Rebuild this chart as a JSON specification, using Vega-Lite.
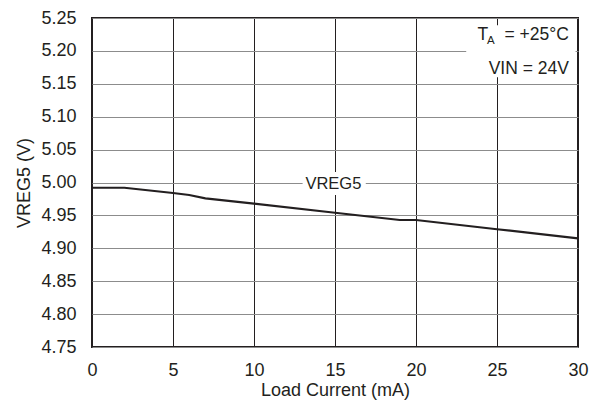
{
  "$schema": "https://vega.github.io/schema/vega-lite/v6.json",
  "autosize": "none",
  "width": 486,
  "height": 329,
  "padding": {"left": 92, "top": 18, "right": 11, "bottom": 59},
  "background": "white",
  "config": {
    "view": {"stroke": "#231f20", "strokeWidth": 2},
    "font": "Liberation Sans",
    "axis": {
      "labelFont": "Liberation Sans",
      "titleFont": "Liberation Sans",
      "labelFontSize": 18,
      "titleFontSize": 18,
      "titleFontWeight": "normal",
      "labelColor": "#231f20",
      "titleColor": "#231f20",
      "labelFlush": false,
      "domain": false,
      "ticks": false,
      "labelPadding": 15
    }
  },
  "data": {
    "values": [
      {"current": 0, "vreg5": 4.992},
      {"current": 2, "vreg5": 4.992},
      {"current": 5, "vreg5": 4.984},
      {"current": 6, "vreg5": 4.981},
      {"current": 7, "vreg5": 4.976},
      {"current": 10, "vreg5": 4.968},
      {"current": 15, "vreg5": 4.954},
      {"current": 19, "vreg5": 4.943},
      {"current": 20, "vreg5": 4.943},
      {"current": 25, "vreg5": 4.929},
      {"current": 30, "vreg5": 4.915}
    ]
  },
  "encoding": {
    "x": {
      "field": "current",
      "type": "quantitative",
      "title": "Load Current (mA)",
      "scale": {"domain": [0, 30], "nice": false},
      "axis": {
        "values": [0, 5, 10, 15, 20, 25, 30],
        "grid": true,
        "gridColor": "#231f20",
        "gridWidth": 1,
        "labelPadding": 14,
        "titlePadding": 2
      }
    },
    "y": {
      "field": "vreg5",
      "type": "quantitative",
      "title": "VREG5 (V)",
      "scale": {"domain": [4.75, 5.25], "nice": false, "zero": false},
      "axis": {
        "values": [4.75, 4.8, 4.85, 4.9, 4.95, 5.0, 5.05, 5.1, 5.15, 5.2, 5.25],
        "format": ".2f",
        "grid": true,
        "gridColor": "#8c8c8c",
        "gridWidth": 1,
        "labelPadding": 16,
        "titlePadding": 7
      }
    }
  },
  "layer": [
    {
      "transform": [{"filter": "datum.current == 0"}],
      "mark": {"type": "rect", "fill": "white"},
      "encoding": {
        "x": {"datum": 13.0},
        "x2": {"datum": 16.9},
        "y": {"datum": 4.981},
        "y2": {"datum": 5.016}
      }
    },
    {
      "transform": [{"filter": "datum.current == 0"}],
      "mark": {"type": "rect", "fill": "white"},
      "encoding": {
        "x": {"datum": 23.1},
        "x2": {"datum": 29.85},
        "y": {"datum": 5.16},
        "y2": {"datum": 5.239}
      }
    },
    {
      "mark": {"type": "line", "color": "#231f20", "strokeWidth": 2.2}
    },
    {
      "transform": [{"filter": "datum.current == 0"}],
      "mark": {"type": "text", "fontSize": 16.5, "fill": "#231f20", "align": "center", "baseline": "middle"},
      "encoding": {
        "x": {"datum": 14.9},
        "y": {"datum": 4.997},
        "text": {"value": "VREG5"}
      }
    },
    {
      "transform": [{"filter": "datum.current == 0"}],
      "mark": {"type": "text", "fontSize": 17.5, "fill": "#231f20", "align": "left", "baseline": "alphabetic"},
      "encoding": {
        "x": {"datum": 23.8},
        "y": {"datum": 5.2166},
        "text": {"value": "T"}
      }
    },
    {
      "transform": [{"filter": "datum.current == 0"}],
      "mark": {"type": "text", "fontSize": 11.5, "fill": "#231f20", "align": "left", "baseline": "alphabetic"},
      "encoding": {
        "x": {"datum": 24.38},
        "y": {"datum": 5.2105},
        "text": {"value": "A"}
      }
    },
    {
      "transform": [{"filter": "datum.current == 0"}],
      "mark": {"type": "text", "fontSize": 17.5, "fill": "#231f20", "align": "right", "baseline": "alphabetic"},
      "encoding": {
        "x": {"datum": 29.44},
        "y": {"datum": 5.2166},
        "text": {"value": "= +25°C"}
      }
    },
    {
      "transform": [{"filter": "datum.current == 0"}],
      "mark": {"type": "text", "fontSize": 17.5, "fill": "#231f20", "align": "right", "baseline": "alphabetic"},
      "encoding": {
        "x": {"datum": 29.44},
        "y": {"datum": 5.165},
        "text": {"value": "VIN = 24V"}
      }
    }
  ]
}
